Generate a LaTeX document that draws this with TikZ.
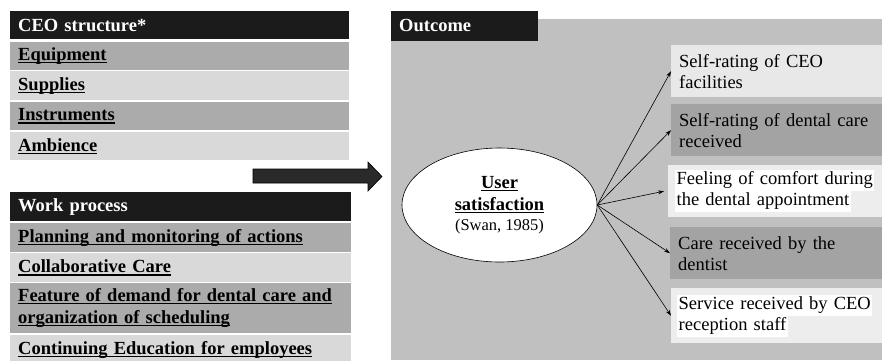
\documentclass[tikz,border=0pt]{standalone}
\usepackage{fontspec}
\setmainfont{Liberation Serif}
\usetikzlibrary{arrows.meta,shapes.geometric}
\definecolor{hdr}{HTML}{1B1B1B}
\definecolor{rowdk}{HTML}{ABABAB}
\definecolor{rowlt}{HTML}{D9D9D9}
\definecolor{panel}{HTML}{C0C0C0}
\definecolor{bxdk}{HTML}{A3A3A3}
\definecolor{bxlt}{HTML}{E8E8E8}
\definecolor{bxlt2}{HTML}{EDEDED}
\definecolor{barrow}{HTML}{2A2A2A}
\newcommand\myul[1]{\leavevmode\setbox0=\hbox{#1}\rlap{\rule[-2.8pt]{\wd0}{1.3pt}}\box0}
\newcommand\hlt[1]{{\setlength\fboxsep{0pt}\colorbox{white}{\strut\hspace{1.5pt}#1\hspace{1.5pt}}}}
\begin{document}
\begin{tikzpicture}[x=1pt,y=-1pt,
  basefont/.style={font=\fontsize{18.5}{21}\selectfont},
  leftbox/.style={basefont, anchor=north west, inner xsep=8pt, inner ysep=0pt,
    align=left, minimum height=#1},
  hdrbox/.style={leftbox=#1, fill=hdr, text=white, font=\fontsize{18.5}{21}\selectfont\bfseries},
  rdk/.style={leftbox=#1, fill=rowdk, font=\fontsize{18.5}{21}\selectfont\bfseries},
  rlt/.style={leftbox=#1, fill=rowlt, font=\fontsize{18.5}{21}\selectfont\bfseries},
  outbox/.style={basefont, anchor=north west, inner xsep=8pt, inner ysep=0pt,
    align=left, text width=195pt, minimum height=#1},
  conn/.style={draw=black, line width=0.6pt, -{Stealth[length=6pt,width=4pt]}}
]
\useasboundingbox (0,0) rectangle (882,360);
\fill[white] (0,0) rectangle (882,360);

% CEO structure group
\node[hdrbox=28pt, text width=323pt] (ceo) at (10,11) {CEO structure*};
\node[rdk=28pt, text width=323pt] (equip) at (10,42) {\myul{Equipment}};
\node[rlt=29pt, text width=323pt] (supp) at (10,71) {\myul{Supplies}};
\node[rdk=28pt, text width=323pt] (instr) at (10,102) {\myul{Instruments}};
\node[rlt=28pt, text width=323pt] (amb) at (10,132) {\myul{Ambience}};

% Work process group
\node[hdrbox=29pt, text width=325pt] (work) at (10,192) {Work process};
\node[rdk=29pt, text width=325pt] (plan) at (10,223) {\myul{Planning and monitoring of actions}};
\node[rlt=29pt, text width=325pt] (collab) at (10,253) {\myul{Collaborative Care}};
\node[rdk=50pt, text width=325pt] (feat) at (10,283) {\myul{Feature of demand for dental care and}\\[1pt]\myul{organization of scheduling}};
\node[rlt=29pt, text width=325pt] (cont) at (10,335) {\myul{Continuing Education for employees}};

% big block arrow
\fill[barrow] (253,169) -- (368,169) -- (368,162) -- (382,176.5) -- (368,191) -- (368,183) -- (253,183) -- cycle;
\draw[black, line width=0.6pt] (253,169) -- (368,169) -- (368,162) -- (382,176.5) -- (368,191) -- (368,183) -- (253,183) -- cycle;

% Outcome panel
\fill[panel] (391,19) rectangle (882,360);
\node[hdrbox=30pt, text width=131pt] (outc) at (391,10.5) {Outcome};

% ellipse
\node[ellipse, draw=black, line width=0.6pt, fill=white, minimum width=195pt, minimum height=114pt,
  inner sep=0pt, align=center, font=\fontsize{18.5}{21}\selectfont] (user) at (499.5,205)
  {\textbf{\myul{User}}\\[1pt]\textbf{\myul{satisfaction}}\\[-1pt]{\fontsize{16.5}{20}\selectfont (Swan, 1985)}};

% outcome boxes
\node[outbox=52pt, fill=bxlt] (o1) at (671,45) {Self-rating of CEO\\facilities};
\node[outbox=52pt, fill=bxdk] (o2) at (671,104) {Self-rating of dental care\\received};
\node[outbox=52pt, fill=bxlt2, inner xsep=7pt, text width=200pt] (o3) at (668,165) {\hlt{Feeling of comfort during}\\\hlt{the dental appointment}};
\node[outbox=52pt, fill=bxdk, inner xsep=8pt, text width=196pt] (o4) at (670,227) {Care received by the\\dentist};
\node[outbox=55pt, fill=bxlt2, inner xsep=6pt, text width=199pt] (o5) at (671,288) {\hlt{Service received by CEO}\\\hlt{reception staff}};

% connectors
\draw[conn] (user.east) -- (o1.west);
\draw[conn] (user.east) -- (o2.west);
\draw[conn] (user.east) -- ([xshift=-4pt]o3.west);
\draw[conn] (user.east) -- (o4.west);
\draw[conn] (user.east) -- (o5.west);
\end{tikzpicture}
\end{document}
